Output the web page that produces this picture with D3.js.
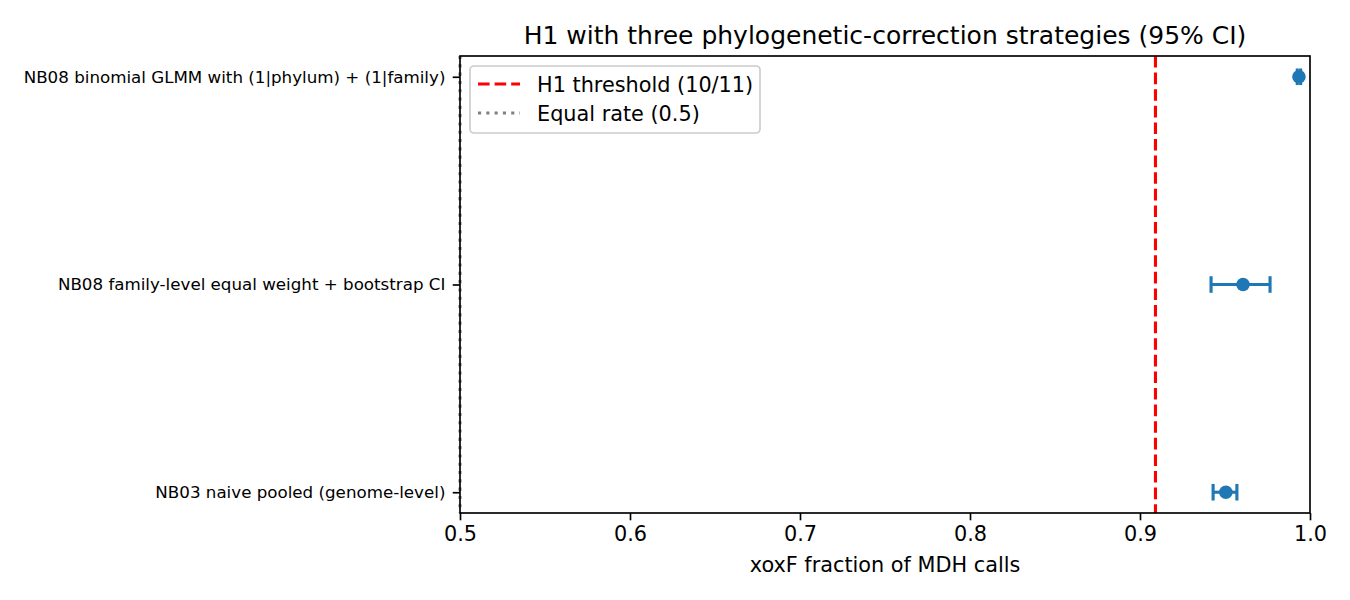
<!DOCTYPE html>
<html>
<head>
<meta charset="utf-8">
<script src="https://cdn.jsdelivr.net/npm/d3@7"></script>
<style>
	body { margin: 0; background: #fff; }
	text { font-family: "DejaVu Sans", sans-serif; }
</style>
</head>
<body>
<svg id="chart" width="1350" height="600"></svg>
<script>
// estimates, bottom row first (as matplotlib plots them)
const methods = [
	"NB03 naive pooled (genome-level)",
	"NB08 family-level equal weight + bootstrap CI",
	"NB08 binomial GLMM with (1|phylum) + (1|family)"
]
const estimates = [0.9505, 0.9606, 0.9935]
const ciLow = [0.943, 0.9418, 0.9925]
const ciHigh = [0.957, 0.9765, 0.9945]
const xTicks = [0.5, 0.6, 0.7, 0.8, 0.9, 1.0]
const threshold = 10 / 11
const equalRate = 0.5

const margin = { top: 56, right: 40, bottom: 87, left: 460 }
const width = 1350
const height = 600
const blue = "#1f77b4"
const lw = 3.1
const dashed = "11.6,5"
const dotted = "3.1,5.2"

const svg = d3.select("#chart")

const x = d3.scaleLinear()
	.domain([0.5, 1.0])
	.range([margin.left, width - margin.right])

const y = d3.scaleLinear()
	.domain([-0.1, methods.length - 1 + 0.1])
	.range([height - margin.bottom, margin.top])

// reference lines
svg.append("line")
	.attr("x1", x(threshold)).attr("x2", x(threshold))
	.attr("y1", margin.top).attr("y2", height - margin.bottom)
	.attr("stroke", "red").attr("stroke-width", lw)
	.attr("stroke-dasharray", dashed)

svg.append("line")
	.attr("x1", x(equalRate)).attr("x2", x(equalRate))
	.attr("y1", margin.top).attr("y2", height - margin.bottom)
	.attr("stroke", "gray").attr("stroke-width", lw)
	.attr("stroke-dasharray", dotted)

// error bars
const rows = methods.map((m, i) => ({ m, i, est: estimates[i], lo: ciLow[i], hi: ciHigh[i] }))
const g = svg.append("g").selectAll("g").data(rows).enter().append("g")

g.append("line")
	.attr("x1", d => x(d.lo)).attr("x2", d => x(d.hi))
	.attr("y1", d => y(d.i)).attr("y2", d => y(d.i))
	.attr("stroke", blue).attr("stroke-width", lw)

g.selectAll(".cap")
	.data(d => [d.lo, d.hi].map(v => ({ v, i: d.i })))
	.enter().append("line")
	.attr("x1", d => x(d.v)).attr("x2", d => x(d.v))
	.attr("y1", d => y(d.i) - 8.3).attr("y2", d => y(d.i) + 8.3)
	.attr("stroke", blue).attr("stroke-width", lw)

g.append("circle")
	.attr("cx", d => x(d.est)).attr("cy", d => y(d.i))
	.attr("r", 6.8).attr("fill", blue)

// frame
svg.append("rect")
	.attr("x", margin.left).attr("y", margin.top)
	.attr("width", width - margin.right - margin.left)
	.attr("height", height - margin.bottom - margin.top)
	.attr("fill", "none").attr("stroke", "black").attr("stroke-width", 1.67)

// x axis
const xAxis = svg.append("g")
	.attr("transform", `translate(0,${height - margin.bottom})`)
	.call(d3.axisBottom(x).tickValues(xTicks).tickFormat(d3.format(".1f")).tickSize(7.3).tickPadding(6))
xAxis.select(".domain").remove()
xAxis.selectAll("line").attr("stroke-width", 1.67)
xAxis.selectAll("text").attr("font-size", 20.8).attr("fill", "black")
	.attr("font-family", "DejaVu Sans")

// y axis
const yAxis = svg.append("g")
	.attr("transform", `translate(${margin.left},0)`)
	.call(d3.axisLeft(y).tickValues(d3.range(methods.length)).tickFormat(i => methods[i]).tickSize(7.3).tickPadding(7.3))
yAxis.select(".domain").remove()
yAxis.selectAll("line").attr("stroke-width", 1.67)
yAxis.selectAll("text").attr("font-size", 16.7).attr("fill", "black")
	.attr("font-family", "DejaVu Sans")

// labels
svg.append("text")
	.attr("x", (margin.left + width - margin.right) / 2).attr("y", 44)
	.attr("text-anchor", "middle").attr("font-size", 25)
	.text("H1 with three phylogenetic-correction strategies (95% CI)")

svg.append("text")
	.attr("x", (margin.left + width - margin.right) / 2).attr("y", 572)
	.attr("text-anchor", "middle").attr("font-size", 20.8)
	.text("xoxF fraction of MDH calls")

// legend
const legend = svg.append("g").attr("transform", "translate(470,66)")
legend.append("rect")
	.attr("width", 290).attr("height", 67).attr("rx", 4)
	.attr("fill", "white").attr("fill-opacity", 0.8)
	.attr("stroke", "#cccccc").attr("stroke-width", 1.67)

const legendItems = [
	{ label: "H1 threshold (10/11)", color: "red", dash: dashed },
	{ label: "Equal rate (0.5)", color: "gray", dash: dotted }
]
const li = legend.selectAll(".item").data(legendItems).enter().append("g")
	.attr("transform", (d, i) => `translate(0,${18 + i * 29})`)
li.append("line")
	.attr("x1", 8).attr("x2", 50)
	.attr("stroke", d => d.color).attr("stroke-width", lw)
	.attr("stroke-dasharray", d => d.dash)
li.append("text")
	.attr("x", 67).attr("y", 7.5).attr("font-size", 20.8)
	.text(d => d.label)
</script>
</body>
</html>
